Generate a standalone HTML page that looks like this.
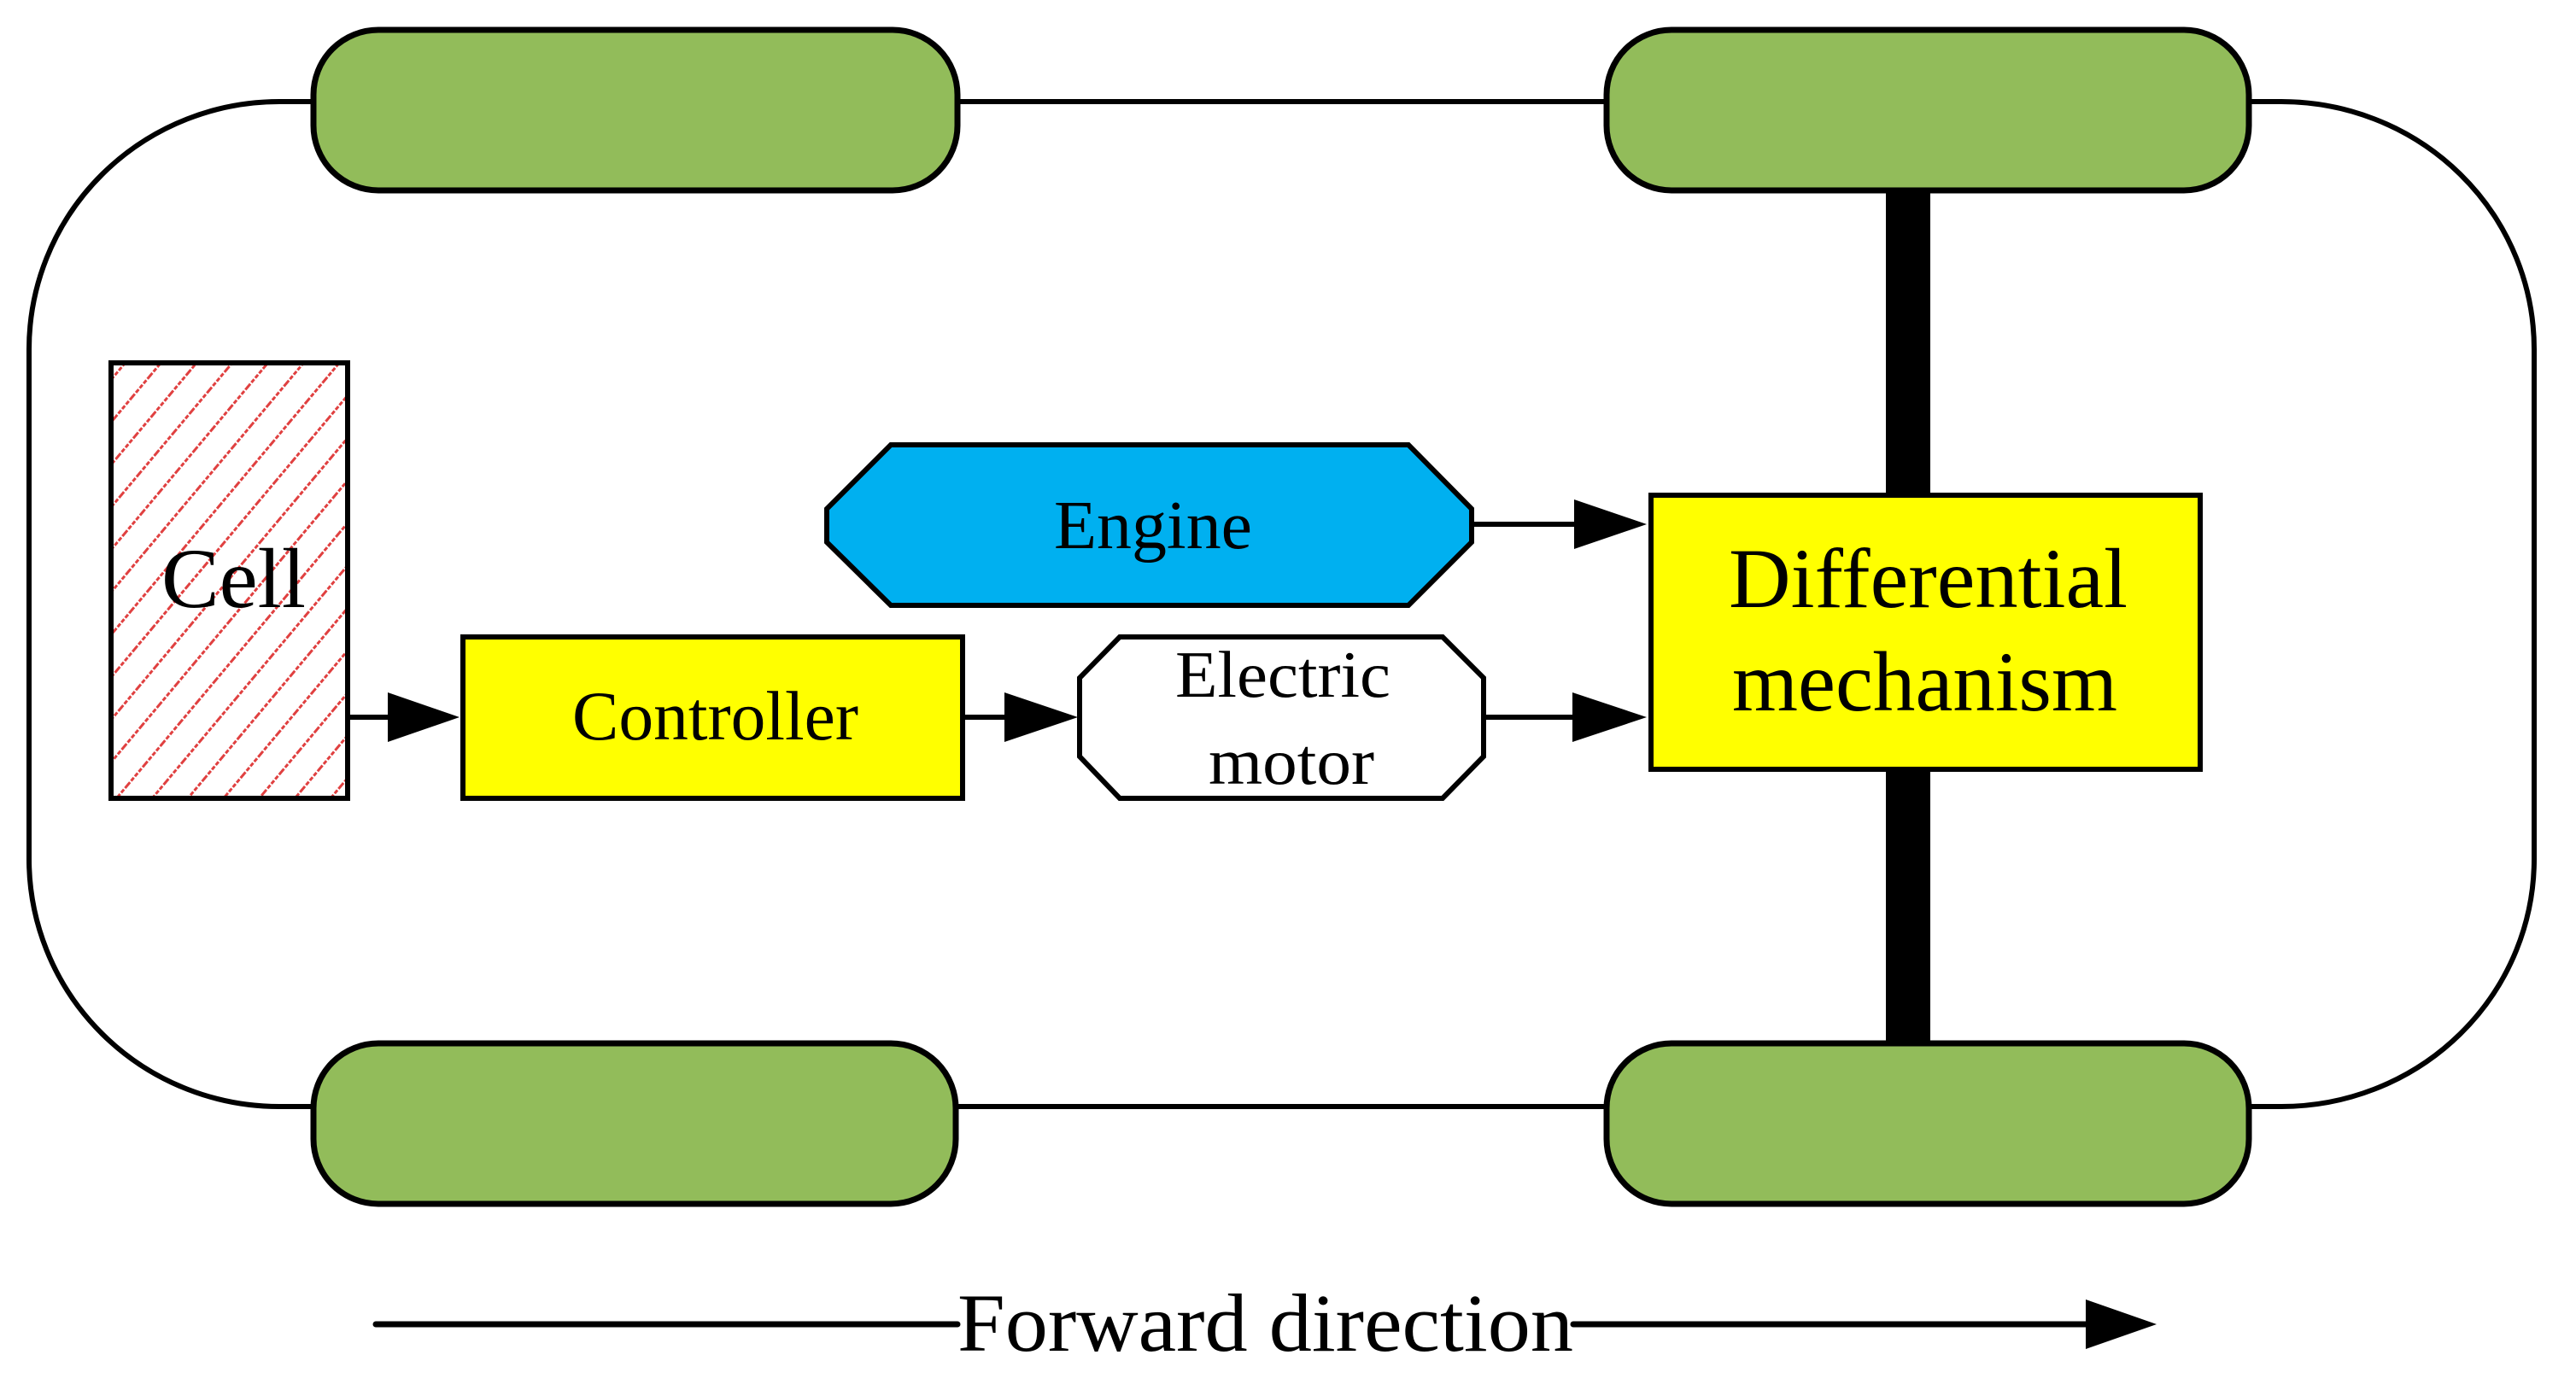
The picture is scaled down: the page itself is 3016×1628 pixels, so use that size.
<!DOCTYPE html>
<html><head><meta charset="utf-8"><style>html,body{margin:0;padding:0;background:#fff}svg{display:block}</style></head>
<body>
<svg width="3016" height="1628" viewBox="0 0 3016 1628" xmlns="http://www.w3.org/2000/svg" font-family="'Liberation Serif', serif">
<defs>
<pattern id="h" patternUnits="userSpaceOnUse" width="32" height="32" patternTransform="rotate(40)">
<line x1="0" y1="0" x2="0" y2="32" stroke="#e04040" stroke-width="6" stroke-dasharray="5,2"/>
</pattern>
</defs>
<!-- body -->
<path d="M327,119 L2671,119 A296,290 0 0 1 2967,409 L2967,1006 A296,290 0 0 1 2671,1296 L327,1296 A293,290 0 0 1 34,1006 L34,409 A293,290 0 0 1 327,119 Z" fill="none" stroke="#000" stroke-width="6"/>
<!-- shaft -->
<rect x="2208" y="220" width="52" height="1005" fill="#000"/>
<!-- wheels -->
<g fill="#92bc5a" stroke="#000" stroke-width="7">
<rect x="367" y="35" width="754" height="188" rx="76" ry="76"/>
<rect x="1881" y="35" width="752" height="188" rx="76" ry="76"/>
<rect x="367" y="1222" width="752" height="188" rx="76" ry="76"/>
<rect x="1881" y="1222" width="752" height="188" rx="76" ry="76"/>
</g>
<!-- cell -->
<rect x="130" y="425" width="277" height="510" fill="#fff"/>
<rect x="130" y="425" width="277" height="510" fill="url(#h)" stroke="#000" stroke-width="6"/>
<text x="189" y="711" font-size="100" textLength="169" lengthAdjust="spacingAndGlyphs">Cell</text>
<!-- controller -->
<rect x="542" y="746" width="585" height="189" fill="#ffff00" stroke="#000" stroke-width="6"/>
<text x="670" y="866" font-size="82" textLength="335" lengthAdjust="spacingAndGlyphs">Controller</text>
<!-- engine -->
<polygon points="1043,521 1649,521 1723,596 1723,635 1649,709 1043,709 968,635 968,596" fill="#00b0f0" stroke="#000" stroke-width="6"/>
<text x="1234" y="642" font-size="80" textLength="232" lengthAdjust="spacingAndGlyphs">Engine</text>
<!-- electric motor -->
<polygon points="1311,746 1689,746 1737,794 1737,886 1689,935 1311,935 1264,886 1264,794" fill="#fff" stroke="#000" stroke-width="6"/>
<text x="1376" y="816" font-size="77" textLength="252" lengthAdjust="spacingAndGlyphs">Electric</text>
<text x="1415" y="918" font-size="77" textLength="194" lengthAdjust="spacingAndGlyphs">motor</text>
<!-- differential -->
<rect x="1933" y="580" width="643" height="321" fill="#ffff00" stroke="#000" stroke-width="6"/>
<text x="2024" y="711" font-size="100" textLength="467" lengthAdjust="spacingAndGlyphs">Differential</text>
<text x="2028" y="832" font-size="100" textLength="451" lengthAdjust="spacingAndGlyphs">mechanism</text>
<!-- arrows -->
<g stroke="#000" stroke-width="6">
<line x1="407" y1="840" x2="460" y2="840"/>
<line x1="1127" y1="840" x2="1180" y2="840"/>
<line x1="1737" y1="840" x2="1845" y2="840"/>
<line x1="1723" y1="614" x2="1845" y2="614"/>
</g>
<g fill="#000">
<polygon points="454,811 538,840 454,869"/>
<polygon points="1176,811 1262,840 1176,869"/>
<polygon points="1841,811 1928,840 1841,869"/>
<polygon points="1843,585 1928,614 1843,643"/>
</g>
<!-- forward -->
<g stroke="#000" stroke-width="7" stroke-linecap="round">
<line x1="440" y1="1551" x2="1121" y2="1551"/>
<line x1="1842" y1="1551" x2="2448" y2="1551"/>
</g>
<polygon points="2442,1522 2525,1551 2442,1580" fill="#000"/>
<text x="1121" y="1582" font-size="96" textLength="721" lengthAdjust="spacingAndGlyphs">Forward direction</text>
</svg>
</body></html>
